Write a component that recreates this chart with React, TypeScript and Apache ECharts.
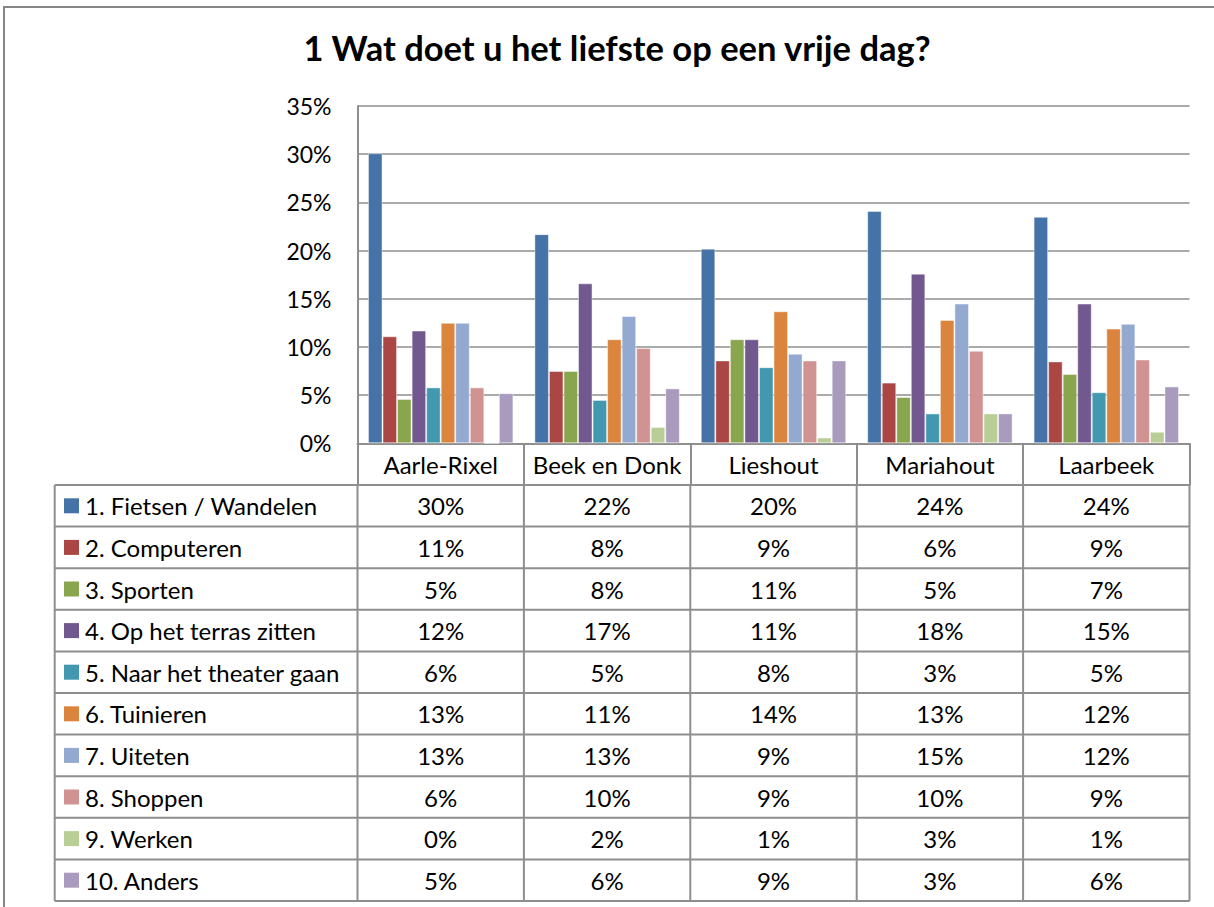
import React, { useEffect, useRef } from "react";
import * as echarts from "echarts";

const categories = ["Aarle-Rixel", "Beek en Donk", "Lieshout", "Mariahout", "Laarbeek"];
const seriesNames = [
  "1. Fietsen / Wandelen",
  "2. Computeren",
  "3. Sporten",
  "4. Op het terras zitten",
  "5. Naar het theater gaan",
  "6. Tuinieren",
  "7. Uiteten",
  "8. Shoppen",
  "9. Werken",
  "10. Anders",
];
const fietsen = [30.1, 21.7, 20.2, 24.1, 23.5];
const computeren = [11.1, 7.5, 8.6, 6.3, 8.5];
const sporten = [4.6, 7.5, 10.8, 4.8, 7.2];
const terras = [11.7, 16.6, 10.8, 17.6, 14.5];
const theater = [5.8, 4.5, 7.9, 3.1, 5.3];
const tuinieren = [12.5, 10.8, 13.7, 12.8, 11.9];
const uiteten = [12.5, 13.2, 9.3, 14.5, 12.4];
const shoppen = [5.8, 9.9, 8.6, 9.6, 8.7];
const werken = [0, 1.7, 0.6, 3.1, 1.2];
const anders = [5.2, 5.7, 8.6, 3.1, 5.9];
const seriesValues = [fietsen, computeren, sporten, terras, theater, tuinieren, uiteten, shoppen, werken, anders];
const colors = ["#4572A7", "#AA4643", "#89A54E", "#71588F", "#4198AF", "#DB843D", "#93A9CF", "#D19392", "#B9CD96", "#A99BBD"];
const yTicks = { min: 0, max: 35, interval: 5 };
const title = "1 Wat doet u het liefste op een vrije dag?";

const FONT = "Lato";
const LINE = "#8e8e8e";

export default function App() {
  const ref = useRef<HTMLDivElement>(null);
  useEffect(() => {
    if (!ref.current) return;
    const chart = echarts.init(ref.current, null, { renderer: "svg" });
    const gridLeft = 357.5;
    const gridRight = 1189.5;
    const gridTop = 106;
    const gridBottom = 443.3;
    const W = 1214;
    const H = 907;
    chart.setOption({
      animation: false,
      title: {
        text: title,
        left: 612,
        top: 25,
        textAlign: "center",
        textStyle: { fontFamily: FONT, fontWeight: "bold", fontSize: 34.5, color: "#000" },
      },
      grid: { left: gridLeft, right: W - gridRight, top: gridTop, bottom: H - gridBottom, containLabel: false },
      xAxis: {
        type: "category",
        data: categories,
        axisLine: { show: true, lineStyle: { color: LINE, width: 2 } },
        axisTick: { show: true, length: 42, interval: 0, lineStyle: { color: LINE, width: 2 } },
        axisLabel: { show: true, interval: 0, margin: 21, verticalAlign: "middle", fontFamily: FONT, fontSize: 24, color: "#000" },
      },
      yAxis: {
        type: "value",
        min: yTicks.min,
        max: yTicks.max,
        interval: yTicks.interval,
        axisLine: { show: true, lineStyle: { color: LINE, width: 2 } },
        axisTick: { show: false },
        splitLine: { show: true, lineStyle: { color: LINE, width: 1.5 } },
        axisLabel: { formatter: (v: number) => `${v}%`, margin: 26, fontFamily: FONT, fontSize: 23, color: "#000" },
      },
      series: seriesNames.map((name, i) => ({
        name,
        type: "bar",
        data: seriesValues[i],
        barGap: "0%",
        barCategoryGap: "12.6%",
        itemStyle: { color: colors[i], borderColor: "rgba(255,255,255,0.45)", borderWidth: 1 },
      })),
    });

    const tableLeft = 54.7;
    const rowTop = 485;
    const rowH = 41.6;
    const n = seriesNames.length;
    const tableBottom = rowTop + rowH * n;
    const colW = (gridRight - gridLeft) / categories.length;
    const graphics: any[] = [];
    graphics.push({
      type: "rect",
      shape: { x: 4, y: 7, width: W + 20, height: H + 20 },
      style: { fill: "none", stroke: "#868686", lineWidth: 2 },
      silent: true,
    });
    for (let r = 0; r <= n; r++) {
      const y = rowTop + r * rowH;
      graphics.push({
        type: "line",
        shape: { x1: tableLeft, y1: y, x2: gridRight, y2: y },
        style: { stroke: LINE, lineWidth: 2 },
      });
    }
    const vx = [tableLeft];
    for (let c = 0; c <= categories.length; c++) vx.push(gridLeft + c * colW);
    vx.forEach((x) => {
      graphics.push({
        type: "line",
        shape: { x1: x, y1: rowTop, x2: x, y2: tableBottom },
        style: { stroke: LINE, lineWidth: 2 },
      });
    });
    seriesNames.forEach((name, r) => {
      const cy = rowTop + r * rowH + rowH / 2;
      graphics.push({
        type: "rect",
        shape: { x: 64, y: cy - 7.5, width: 15, height: 15 },
        style: { fill: colors[r] },
      });
      graphics.push({
        type: "text",
        x: 85,
        y: cy,
        style: { text: name, fontFamily: FONT, fontSize: 24, fill: "#000", verticalAlign: "middle" },
      });
      seriesValues[r].forEach((v, c) => {
        const px = chart.convertToPixel({ xAxisIndex: 0 }, c) as number;
        graphics.push({
          type: "text",
          x: px,
          y: cy,
          style: {
            text: `${Math.round(v)}%`,
            fontFamily: FONT,
            fontSize: 24,
            fill: "#000",
            align: "center",
            verticalAlign: "middle",
          },
        });
      });
    });
    chart.setOption({ graphic: graphics });
    return () => chart.dispose();
  }, []);
  return <div ref={ref} style={{ position: "absolute", left: 0, top: 0, width: 1214, height: 907, background: "#fff" }} />;
}
